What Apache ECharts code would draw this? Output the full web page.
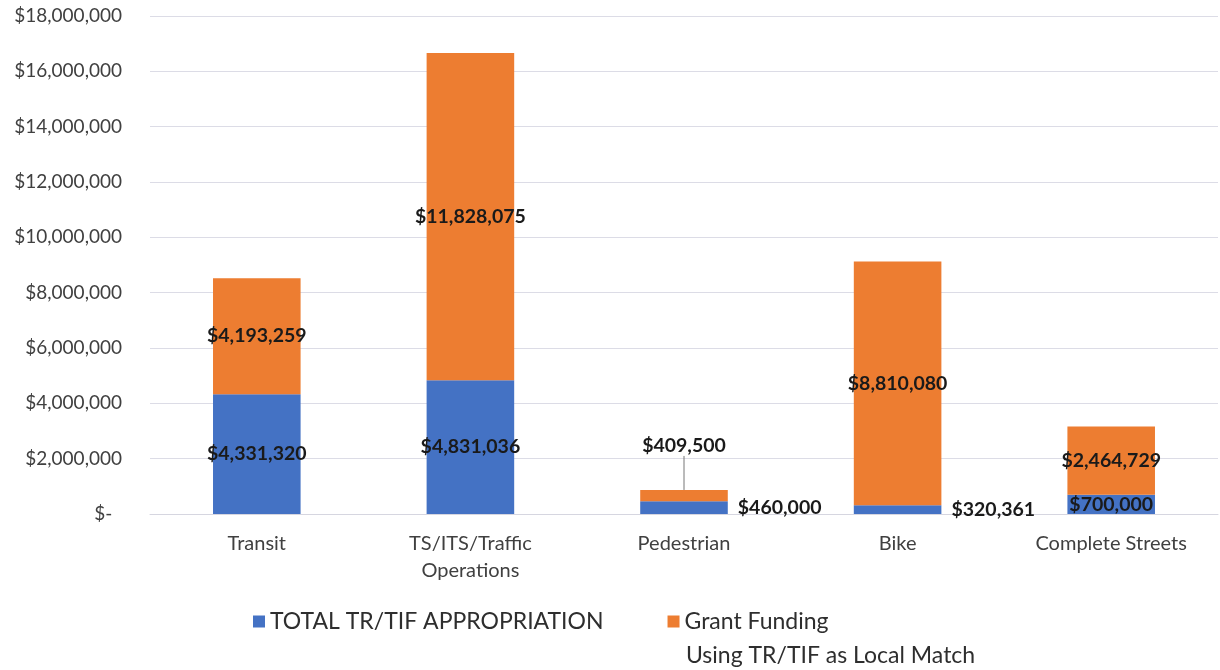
<!DOCTYPE html>
<html><head><meta charset="utf-8">
<script src="https://cdn.jsdelivr.net/npm/echarts@6/dist/echarts.min.js"></script>
<style>html,body{margin:0;padding:0;background:#fff}#c{width:1220px;height:670px}</style>
</head><body><div id="c"></div>
<script>
const categories = ['Transit', 'TS/ITS/Traffic\nOperations', 'Pedestrian', 'Bike', 'Complete Streets'];
const appropriation = [4331320, 4831036, 460000, 320361, 700000];
const grantFunding = [4193259, 11828075, 409500, 8810080, 2464729];
const seriesNames = ['TOTAL TR/TIF APPROPRIATION', 'Grant Funding\nUsing TR/TIF as Local Match'];

const FONT = 'Lato, "Open Sans", sans-serif';
const fmt = v => '$' + Math.round(v).toLocaleString('en-US');
const chart = echarts.init(document.getElementById('c'), null, {renderer: 'canvas'});
const sideLabel = {show: true, position: 'right', distance: 10};
chart.setOption({
  animation: false,
  textStyle: {fontFamily: FONT},
  grid: {left: 150, right: 2, top: 16, bottom: 156, containLabel: false},
  legend: {
    top: 605, left: 248, itemGap: 64, itemWidth: 12, itemHeight: 12,
    icon: 'rect',
    textStyle: {fontSize: 23, color: '#2e2e2e', fontFamily: FONT},
    formatter: n => n.split('\n')[0],
    data: seriesNames
  },
  graphic: [{
    type: 'text', left: 686, top: 644,
    style: {text: seriesNames[1].split('\n')[1], fontSize: 23, fill: '#2e2e2e', fontFamily: FONT}
  }],
  xAxis: {
    type: 'category', data: categories,
    axisLine: {lineStyle: {color: '#d6d6e0'}}, axisTick: {show: false},
    axisLabel: {fontSize: 20, color: '#404040', margin: 16, lineHeight: 27, fontFamily: FONT}
  },
  yAxis: {
    type: 'value', min: 0, max: 18000000, interval: 2000000,
    axisLine: {show: false}, axisTick: {show: false},
    splitLine: {lineStyle: {color: '#dcdce6'}},
    axisLabel: {fontSize: 19, color: '#404040', margin: 28, fontFamily: FONT,
      formatter: v => v === 0 ? '$-  ' : fmt(v)}
  },
  series: [
    {
      name: seriesNames[0], type: 'bar', stack: 'total', barWidth: '41%',
      itemStyle: {color: '#4472C4'},
      data: appropriation.map((v, i) => (i === 2 || i === 3) ? {value: v, label: sideLabel} : v),
      label: {show: true, position: 'inside', formatter: p => fmt(p.value),
        fontSize: 19.5, fontWeight: 'bold', color: '#1a1a1a', fontFamily: FONT}
    },
    {
      name: seriesNames[1], type: 'bar', stack: 'total', barWidth: '41%',
      itemStyle: {color: '#ED7D31'},
      data: grantFunding.map((v, i) => i === 2 ? {value: v, label: {position: 'top', distance: 4}, labelLine: {show: true, lineStyle: {color: '#777', width: 1}}} : v),
      label: {show: true, position: 'inside', formatter: p => fmt(p.value),
        fontSize: 19.5, fontWeight: 'bold', color: '#1a1a1a', fontFamily: FONT},
      labelLayout: p => p.dataIndex === 2 ? {dy: -30} : {}
    }
  ]
});
</script></body></html>
